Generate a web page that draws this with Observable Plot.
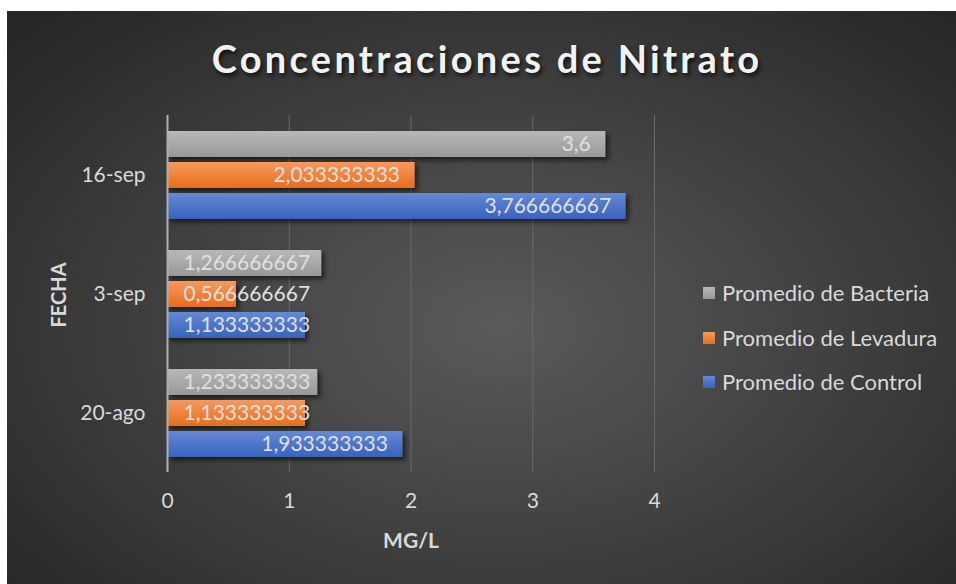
<!DOCTYPE html>
<html>
<head>
<meta charset="utf-8">
<script src="https://cdn.jsdelivr.net/npm/d3@7"></script>
<script src="https://cdn.jsdelivr.net/npm/@observablehq/plot@0.6"></script>
<style>
  html, body { margin: 0; padding: 0; background: #ffffff; }
  #frame {
    position: absolute; left: 7px; top: 11px; width: 949px; height: 573px;
    background: radial-gradient(ellipse 70% 75% at 52% 55%, #5a5a5a 0%, #3e3e3e 55%, #262626 100%);
    overflow: hidden; font-family: Lato, "Open Sans", sans-serif;
  }
  #chart { position: absolute; left: 0; top: 0; }
  #title {
    position: absolute; left: 0; width: 960px; top: 24px; text-align: center;
    font-size: 38px; font-weight: bold; letter-spacing: 3.3px; color: #f2f2f2;
    text-shadow: 2px 3px 4px rgba(0,0,0,0.7);
  }
  #legend { position: absolute; left: 696px; top: 269px; color: #d9d9d9; font-size: 22px; }
  .lg { position: absolute; white-space: nowrap; height: 26px; line-height: 26px; }
  .lg span.sw { position: absolute; left: 0; top: 7px; width: 12px; height: 12px; }
  .lg span.tx { position: absolute; left: 19px; top: 0; }
  #ytitle {
    position: absolute; left: 40px; top: 284px; transform-origin: 0 0; line-height: 22px;
    transform: rotate(-90deg) translate(-50%, 0); color: #d9d9d9; font-weight: bold; font-size: 20px;
    white-space: nowrap;
  }
  #xtitle { position: absolute; left: 404px; top: 516px; transform: translateX(-50%); color: #d9d9d9; font-weight: bold; font-size: 21px; }
</style>
</head>
<body>
<div id="frame">
  <div id="chart"></div>
  <div id="title">Concentraciones de Nitrato</div>
  <div id="legend"></div>
  <div id="ytitle">FECHA</div>
  <div id="xtitle">MG/L</div>
</div>
<script>
// ---- data ----
const dates = ["16-sep", "3-sep", "20-ago"];
const series = ["Promedio de Bacteria", "Promedio de Levadura", "Promedio de Control"];
const bacteria = [3.6, 1.266666667, 1.233333333];
const levadura = [2.033333333, 0.566666667, 1.133333333];
const control = [3.766666667, 1.133333333, 1.933333333];
const xTicks = [0, 1, 2, 3, 4];

const values = [bacteria, levadura, control];
const rows = [];
dates.forEach((d, i) => series.forEach((s, j) => rows.push({date: d, series: s, value: values[j][i]})));
const gradIds = ["gBac", "gLev", "gCon"];
const fmt = v => String(v).replace(".", ",");

// label placement: inside end if it fits, else from the bar's base
const labelFont = "21px Lato";
const ctx = document.createElement("canvas").getContext("2d");
ctx.font = labelFont;
const pxPerUnit = (949 - 160 - 302) / 4;
const fits = d => d.value * pxPerUnit - 15 - ctx.measureText(fmt(d.value)).width >= 16;

const plot = Plot.plot({
  width: 949, height: 573,
  marginLeft: 160, marginRight: 302, marginTop: 104, marginBottom: 112,
  style: {background: "transparent", color: "#d9d9d9", fontFamily: "Lato, 'Open Sans', sans-serif", fontSize: "21px"},
  x: {domain: [0, 4], ticks: xTicks, label: null, tickSize: 0, tickPadding: 21, tickFormat: d => String(d)},
  fy: {domain: dates, padding: 0, label: null, tickSize: 0, tickPadding: 22},
  y: {domain: series, paddingInner: 5 / 31, paddingOuter: 0.5, axis: null},
  color: {type: "ordinal", domain: series, range: gradIds.map(g => `url(#${g})`)},
  marks: [
    Plot.ruleX(xTicks.filter(t => t > 0), {stroke: "#6a6a6a", strokeWidth: 1}),
    Plot.barX(rows, {x: "value", y: "series", fy: "date", fill: "series"}),
    Plot.ruleX([0], {stroke: "#b0b0b0", strokeWidth: 2}),
    Plot.text(rows.filter(fits), {x: "value", y: "series", fy: "date", text: d => fmt(d.value), textAnchor: "end", dx: -15, fill: "#e0e0e0", fontSize: 21}),
    Plot.text(rows.filter(d => !fits(d)), {x: 0, y: "series", fy: "date", text: d => fmt(d.value), textAnchor: "start", dx: 16, fill: "#e0e0e0", fontSize: 21})
  ]
});
document.getElementById("chart").appendChild(plot);

// gradients and shadows for bars
const svg = d3.select(plot);
const defs = svg.insert("defs", ":first-child");
const stops = [["#b8b8b8", "#989898"], ["#f59a60", "#e96d1a"], ["#6489d6", "#3863bb"]];
gradIds.forEach((g, i) => {
  const lg = defs.append("linearGradient").attr("id", g).attr("x1", 0).attr("y1", 0).attr("x2", 0).attr("y2", 1);
  lg.append("stop").attr("offset", "0%").attr("stop-color", stops[i][0]);
  lg.append("stop").attr("offset", "100%").attr("stop-color", stops[i][1]);
});
const f = defs.append("filter").attr("id", "shadow").attr("x", "-10%").attr("y", "-30%").attr("width", "130%").attr("height", "180%");
f.append("feDropShadow").attr("dx", 3).attr("dy", 3).attr("stdDeviation", 2.5).attr("flood-color", "#000").attr("flood-opacity", 0.6);
svg.selectAll("rect").filter(function() { return (this.getAttribute("fill") || "").startsWith("url"); }).attr("filter", "url(#shadow)");

// legend
const legend = document.getElementById("legend");
series.forEach((s, i) => {
  const div = document.createElement("div");
  div.className = "lg";
  div.style.top = (i * 44.5) + "px";
  div.innerHTML = `<span class="sw" style="background:linear-gradient(${stops[i][0]}, ${stops[i][1]})"></span><span class="tx">${s}</span>`;
  legend.appendChild(div);
});
</script>
</body>
</html>
